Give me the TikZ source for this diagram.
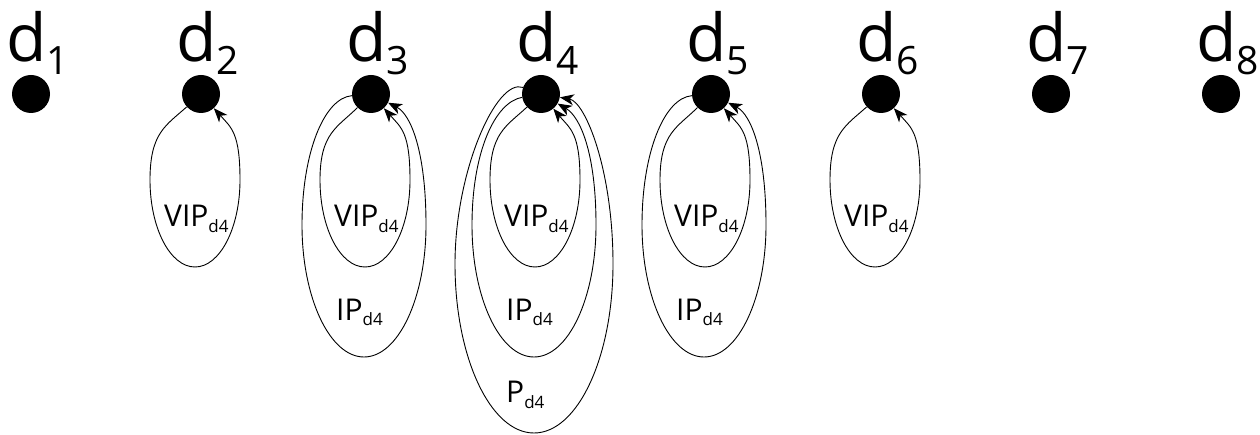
\documentclass[tikz,border=0pt]{standalone}
\usepackage{fontspec}
\setmainfont{Open Sans}
\usetikzlibrary{arrows.meta}
\newcommand\ploop[8]{%
 \pgfmathsetmacro\Lx{#2+#5}%
 \pgfmathsetmacro\Rx{#2+#6}%
 \pgfmathsetmacro\Mx{(\Lx+\Rx)/2}%
 \pgfmathsetmacro\kx{0.552*(\Rx-\Lx)/2}%
 \pgfmathsetmacro\ky{0.552*(#7-#8)}%
 \pgfmathsetmacro\kt{0.55*(340-#7)}%
 \draw[lp] (#1.#3) .. controls +(#3:28) and +(0,\kt) .. (\Lx,#7) .. controls +(0,-\ky) and +(-\kx,0) .. (\Mx,#8) .. controls +(\kx,0) and +(0,-\ky) .. (\Rx,#7) .. controls +(0,\kt) and +(#4:26) .. (#1.#4);
}
\newcommand\sub[1]{\raisebox{-6pt}{\fontsize{17}{17}\selectfont #1}}
\begin{document}
\begin{tikzpicture}[x=1pt,y=1pt,
 dot/.style={circle,fill=black,inner sep=0pt,minimum size=38pt},
 lp/.style={draw=black,line width=0.9pt,-{Stealth[length=14pt,width=11pt,inset=4pt]}},
 dlab/.style={anchor=base west,inner sep=0pt,font=\fontsize{66}{66}\selectfont},
 slab/.style={anchor=base west,inner sep=0pt,font=\fontsize{30}{30}\selectfont}]
\useasboundingbox (0,0) rectangle (1260,434);
\foreach \i in {1,...,8} {
 \pgfmathsetmacro\cx{31+170*(\i-1)}
 \node[dot] (d\i) at (\cx,340) {};
 \node[dlab] (t\i) at (\cx-25,372) {d\raisebox{-13pt}{\fontsize{39}{39}\selectfont\i}};
}
% d2
\ploop{d2}{201}{222}{312}{-51}{39}{254}{167}
\node[slab] (v2) at (201-37,207) {VIP\sub{d4}};
% d3
\ploop{d3}{371}{225}{312}{-51}{39}{254}{167}
\ploop{d3}{371}{185}{333}{-69}{55}{209}{77}
\node[slab] (v3) at (371-37,207) {VIP\sub{d4}};
\node[slab] (i3) at (371-35,114) {IP\sub{d4}};
% d4
\ploop{d4}{541}{223}{310}{-51}{39}{254}{167}
\ploop{d4}{541}{190}{330}{-69}{55}{209}{77}
\ploop{d4}{541}{160}{350}{-86}{72}{170}{1}
\node[slab] (v4) at (541-37,207) {VIP\sub{d4}};
\node[slab] (i4) at (541-35,114) {IP\sub{d4}};
\node[slab] (p4) at (541-35,32) {P\sub{d4}};
% d5
\ploop{d5}{711}{225}{312}{-51}{39}{254}{167}
\ploop{d5}{711}{185}{333}{-69}{55}{209}{77}
\node[slab] (v5) at (711-37,207) {VIP\sub{d4}};
\node[slab] (i5) at (711-35,114) {IP\sub{d4}};
% d6
\ploop{d6}{881}{222}{312}{-51}{39}{254}{167}
\node[slab] (v6) at (881-37,207) {VIP\sub{d4}};
\end{tikzpicture}
\end{document}
